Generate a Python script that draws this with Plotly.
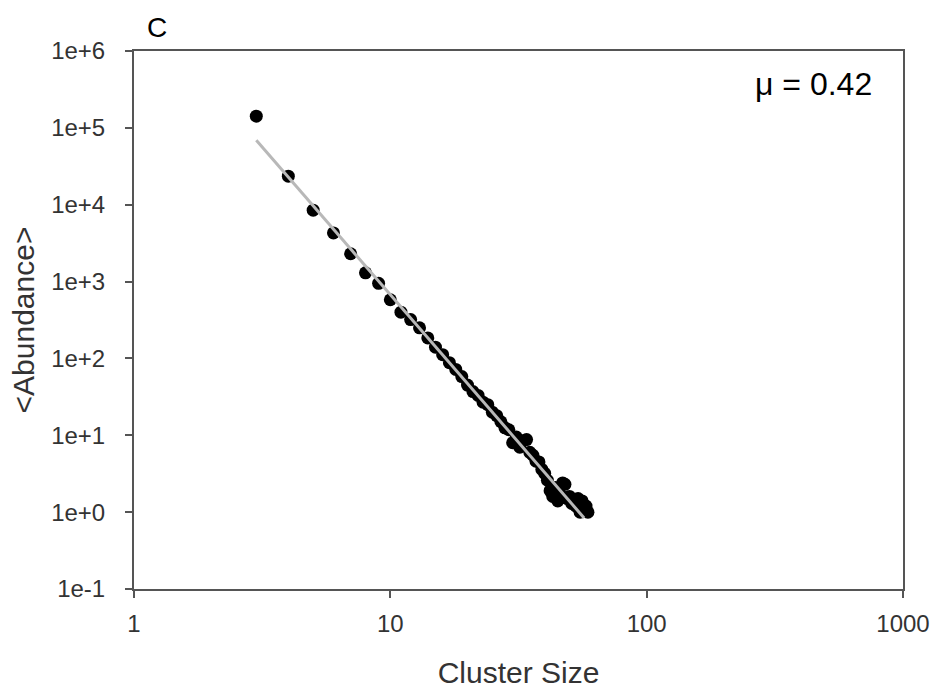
import plotly.graph_objects as go

# Data
cluster_size = list(range(3, 60))
abundance = [142000, 23500, 8500, 4300, 2300, 1300, 950, 580, 400, 320,
             250, 185, 140, 112, 88, 72, 58, 45, 37, 33,
             27, 25, 20, 18, 15, 12.5, 11.8, 8.0, 9.5, 7.0,
             8.5, 8.8, 6.0, 5.5, 4.6, 4.5, 3.6, 3.2, 2.6, 1.9,
             1.6, 2.1, 1.4, 1.7, 2.4, 2.3, 1.5, 1.6, 1.3, 1.3,
             1.2, 1.5, 1.0, 1.4, 1.1, 1.2, 1.0]
fit_x = [3, 57]
fit_y = [69000, 0.84]

x_tickvals = [1, 10, 100, 1000]
x_ticktext = ["1", "10", "100", "1000"]
y_tickvals = [1e-1, 1e0, 1e1, 1e2, 1e3, 1e4, 1e5, 1e6]
y_ticktext = ["1e-1", "1e+0", "1e+1", "1e+2", "1e+3", "1e+4", "1e+5", "1e+6"]

FONT = "Liberation Sans, Arial, sans-serif"
AXC = "#555555"
TXT = "#333333"

fig = go.Figure()
fig.add_trace(go.Scatter(x=cluster_size, y=abundance, mode="markers",
                         marker=dict(color="black", size=13, line=dict(width=0)),
                         showlegend=False))
fig.add_trace(go.Scatter(x=fit_x, y=fit_y, mode="lines",
                         line=dict(color="#b8b8b8", width=3),
                         showlegend=False))

fig.update_layout(
    width=935, height=695,
    margin=dict(l=134, r=32, t=51, b=106),
    paper_bgcolor="white", plot_bgcolor="white",
    font=dict(family=FONT, size=24, color=TXT),
    xaxis=dict(type="log", range=[0, 3], tickvals=x_tickvals, ticktext=x_ticktext,
               showgrid=False, zeroline=False, showline=True, mirror=True,
               linecolor=AXC, linewidth=2, ticks="outside", ticklen=7,
               tickcolor=AXC, tickwidth=1.5, ticklabelstandoff=5,
               tickfont=dict(size=24, color=TXT), automargin=False,
               title=dict(text="Cluster Size", font=dict(size=30, color=TXT), standoff=26)),
    yaxis=dict(type="log", range=[-1, 6], tickvals=y_tickvals, ticktext=y_ticktext,
               showgrid=False, zeroline=False, showline=True, mirror=True,
               linecolor=AXC, linewidth=2, ticks="outside", ticklen=7,
               tickcolor=AXC, tickwidth=1.5, ticklabelstandoff=15,
               tickfont=dict(size=24, color=TXT), automargin=False,
               title=dict(text="&lt;Abundance&gt;", font=dict(size=30, color=TXT), standoff=8)),
    annotations=[
        dict(text="μ = 0.42", xref="paper", yref="paper", x=(813 - 134) / 769, y=(589 - 84) / 538,
             xanchor="center", yanchor="middle", showarrow=False,
             font=dict(size=32, color="black")),
        dict(text="C", xref="paper", yref="paper", x=(157 - 134) / 769, y=(589 - 27) / 538,
             xanchor="center", yanchor="middle", showarrow=False,
             font=dict(size=28, color="black")),
    ],
)

fig.write_html("out.html")
